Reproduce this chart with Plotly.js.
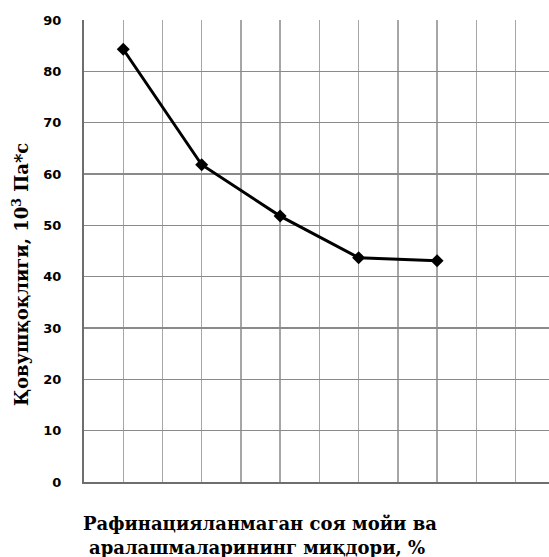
<!DOCTYPE html>
<html>
<head>
<meta charset="utf-8">
<script src="https://cdn.plot.ly/plotly-3.0.1.min.js"></script>
<style>
html,body{margin:0;padding:0;overflow:hidden;background:#fff;width:549px;height:557px;}
#chart{width:600px;height:557px;}
</style>
</head>
<body>
<div id="chart"></div>
<script>
// Data
const xPositions = [1, 3, 5, 7, 9];
const viscosity = [84.3, 61.8, 51.8, 43.7, 43.1];
const yTickValues = [0, 10, 20, 30, 40, 50, 60, 70, 80, 90];
const yTitle = 'Қовушқоқлиги, 10<sup>3</sup> Па*с';
const xTitleLine1 = 'Рафинацияланмаган соя мойи ва';
const xTitleLine2 = 'аралашмаларининг миқдори, %';

const trace = {
  x: xPositions,
  y: viscosity,
  type: 'scatter',
  mode: 'lines+markers',
  line: {color: '#000000', width: 3},
  marker: {symbol: 'diamond', size: 10, color: '#000000'},
  showlegend: false,
  hoverinfo: 'skip'
};

const layout = {
  width: 600,
  height: 557,
  margin: {l: 84, r: 6.4, t: 20, b: 75},
  paper_bgcolor: '#ffffff',
  plot_bgcolor: '#ffffff',
  xaxis: {
    range: [0, 13],
    dtick: 1,
    tick0: 0,
    showticklabels: false,
    showgrid: true,
    gridcolor: '#a6a6a6',
    gridwidth: 1.3,
    zeroline: false,
    showline: true,
    linecolor: '#6e6e6e',
    linewidth: 2,
    ticks: '',
    fixedrange: true
  },
  yaxis: {
    range: [0, 90],
    tickvals: yTickValues,
    showgrid: true,
    gridcolor: '#8a8a8a',
    gridwidth: 1.5,
    zeroline: false,
    showline: true,
    linecolor: '#6e6e6e',
    linewidth: 2,
    ticks: '',
    ticklabelstandoff: 18,
    tickfont: {family: 'DejaVu Sans', size: 13, color: '#000000', weight: 'bold'},
    fixedrange: true
  },
  annotations: [
    {
      text: '<b>' + yTitle + '</b>',
      xref: 'paper', yref: 'paper',
      x: -0.1237, y: 0.45,
      xanchor: 'center', yanchor: 'middle',
      textangle: -90,
      showarrow: false,
      font: {family: 'DejaVu Serif', size: 18, color: '#000000'}
    },
    {
      text: '<b>' + xTitleLine1 + '</b>',
      xref: 'paper', yref: 'paper',
      x: 0.345, y: -0.0895,
      xanchor: 'center', yanchor: 'middle',
      showarrow: false,
      font: {family: 'DejaVu Serif', size: 18, color: '#000000'}
    },
    {
      text: '<b>' + xTitleLine2 + '</b>',
      xref: 'paper', yref: 'paper',
      x: 0.34, y: -0.141,
      xanchor: 'center', yanchor: 'middle',
      showarrow: false,
      font: {family: 'DejaVu Serif', size: 18, color: '#000000'}
    }
  ]
};

Plotly.newPlot('chart', [trace], layout, {displayModeBar: false, staticPlot: true});
</script>
</body>
</html>
